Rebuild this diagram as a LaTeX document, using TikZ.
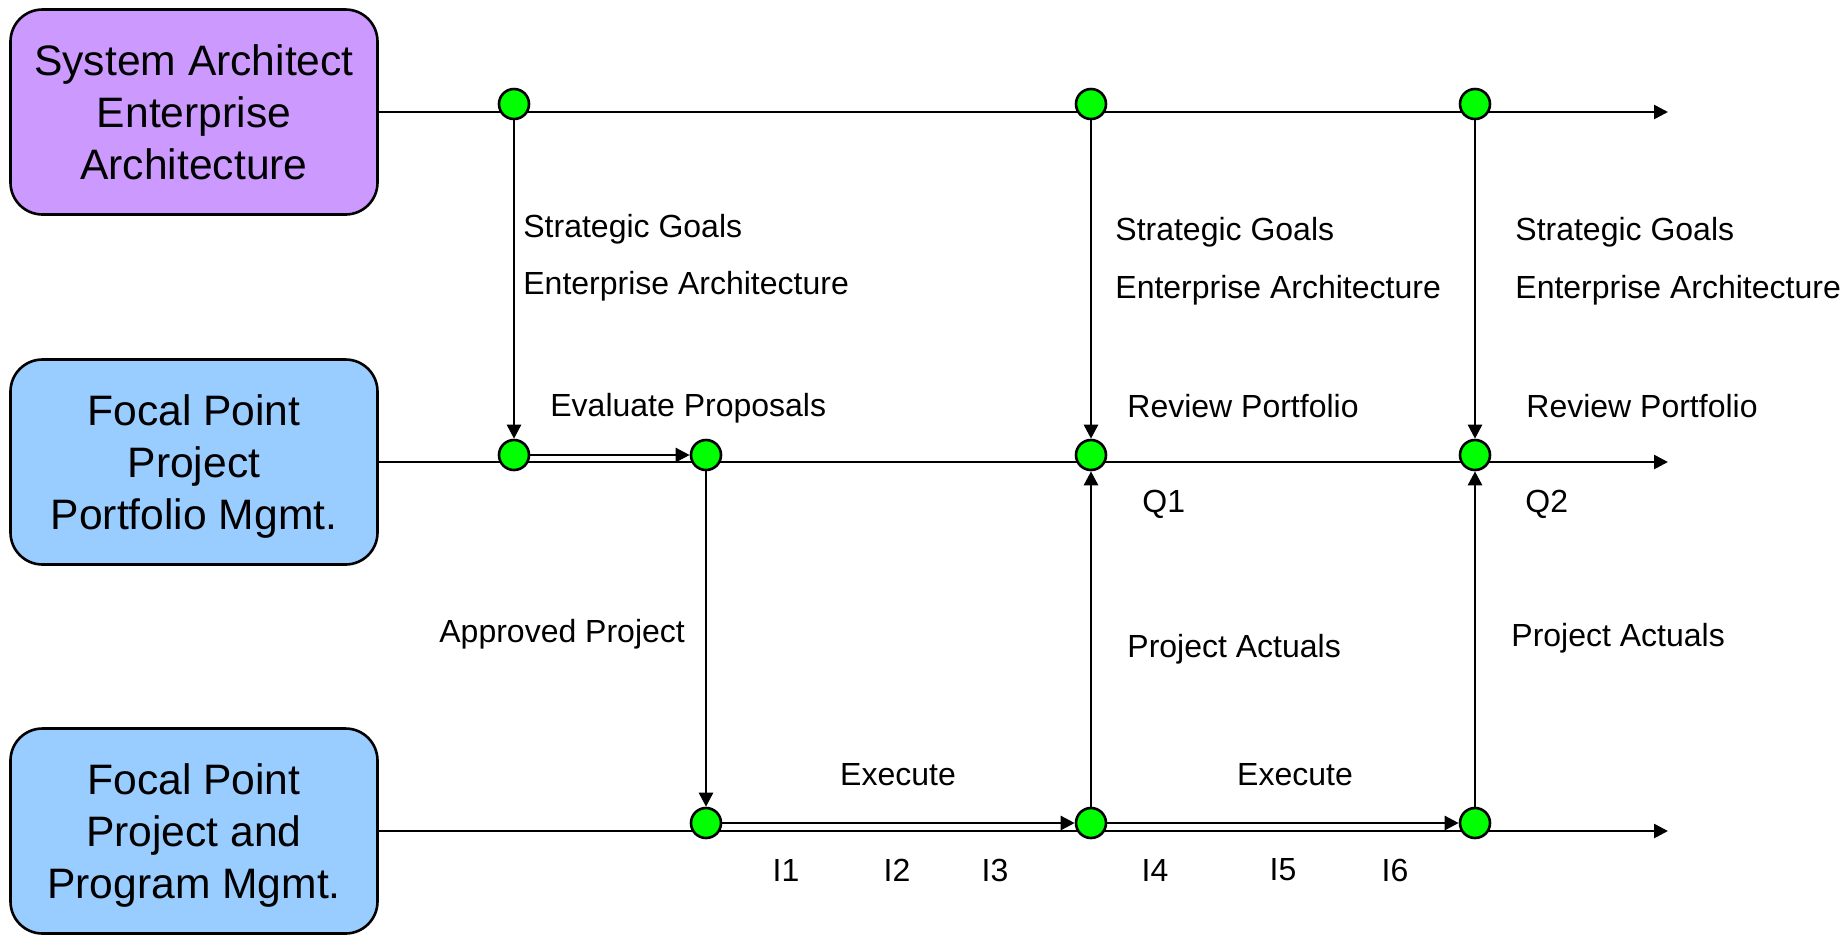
\documentclass[tikz,border=0pt]{standalone}
\usepackage{fontspec}
\setmainfont{Liberation Sans}
\usetikzlibrary{arrows.meta}
\definecolor{archpurple}{HTML}{CC99FF}
\definecolor{laneblue}{HTML}{99CCFF}
\definecolor{dotgreen}{HTML}{00FF00}
\tikzstyle{lane}=[draw, line width=1.3pt, rounded corners=16pt, minimum width=183.5pt, minimum height=102.5pt, align=center, text depth=0pt, font=\fontsize{21.3}{26}\selectfont]
\tikzstyle{milestone}=[circle, draw, line width=1.3pt, inner sep=0pt, minimum size=15pt, fill=dotgreen]
\tikzstyle{note}=[inner sep=0pt, anchor=west, font=\fontsize{16}{19}\selectfont]
\tikzstyle{flow}=[line width=1.3pt, -{Triangle[length=7pt,width=7pt]}]
\newcommand{\milestone}{\node[milestone]}

\begin{document}
\begin{tikzpicture}[x=0.5pt,y=-0.5pt]
\useasboundingbox (0,0) rectangle (1844,934);
% swim lanes
\node[lane, fill=archpurple] (sys) at (194,112) {System Architect\\Enterprise\\Architecture};
\node[lane, fill=laneblue] (ppm) at (194,462) {Focal Point\\Project\\Portfolio Mgmt.};
\node[lane, fill=laneblue] (prg) at (194,831) {Focal Point\\Project and\\Program Mgmt.};
\coordinate (sysend) at (1668,112);
\coordinate (ppmend) at (1668,462);
\coordinate (prgend) at (1668,831);
\draw[flow] (sys.east)--(sysend);
\draw[flow] (ppm.east)--(ppmend);
\draw[flow] (prg.east)--(prgend);
% milestones
\milestone (sa1) at (514,104){};
\milestone (sa2) at (1091,104){};
\milestone (sa3) at (1475,104){};
\milestone (pp1) at (514,455){};
\milestone (pp2) at (706,455){};
\milestone (pp3) at (1091,455){};
\milestone (pp4) at (1475,455){};
\milestone (pm1) at (706,823){};
\milestone (pm2) at (1091,823){};
\milestone (pm3) at (1475,823){};
\draw[flow] (sa1)--(pp1);
\draw[flow] (sa2)--(pp3);
\draw[flow] (sa3)--(pp4);
\draw[flow] (pp1)--(pp2);
\draw[flow] (pp2)--(pm1);
\draw[flow] (pm1)--(pm2);
\draw[flow] (pm2)--(pm3);
\draw[flow] (pm2)--(pp3);
\draw[flow] (pm3)--(pp4);
% labels
\node[note] (goals1) at (523,229) {Strategic Goals};
\node[note] (ea1) at (523,286) {Enterprise Architecture};
\node[note] (goals2) at (1115,232) {Strategic Goals};
\node[note] (ea2) at (1115,290) {Enterprise Architecture};
\node[note] (goals3) at (1515,232) {Strategic Goals};
\node[note] (ea3) at (1515,290) {Enterprise Architecture};
\node[note] (eval) at (550,408) {Evaluate Proposals};
\node[note] (review1) at (1127,406) {Review Portfolio};
\node[note] (review2) at (1526,406) {Review Portfolio};
\node[note] (q1) at (1142,504) {Q1};
\node[note] (q2) at (1525,504) {Q2};
\node[note] (approved) at (439,634) {Approved Project};
\node[note] (actuals1) at (1127,649) {Project Actuals};
\node[note] (actuals2) at (1511,638) {Project Actuals};
\node[note, anchor=center] (exec1) at (898,775) {Execute};
\node[note, anchor=center] (exec2) at (1295,775) {Execute};
\node[note, anchor=center] (i1) at (786,870) {I1};
\node[note, anchor=center] (i2) at (897,870) {I2};
\node[note, anchor=center] (i3) at (995,870) {I3};
\node[note, anchor=center] (i4) at (1155,870) {I4};
\node[note, anchor=center] (i5) at (1283,870) {I5};
\node[note, anchor=center] (i6) at (1395,870) {I6};
\end{tikzpicture}
\end{document}
